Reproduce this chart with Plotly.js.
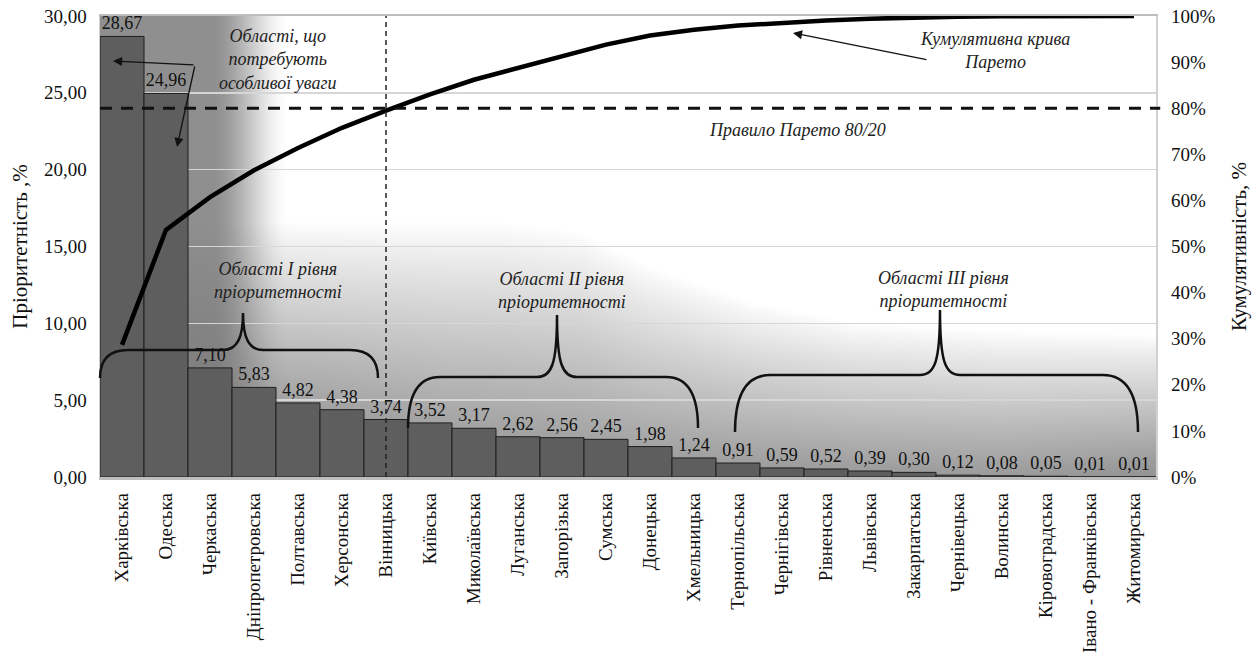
<!DOCTYPE html>
<html>
<head>
<meta charset="utf-8">
<script src="https://cdn.plot.ly/plotly-3.0.1.min.js"></script>
<style>
  html, body { margin: 0; padding: 0; background: #ffffff; }
  #chart { width: 1259px; height: 660px; }
</style>
</head>
<body>
<div id="chart"></div>
<script>
// Regions of Ukraine ordered by priority share
const regions = [
  'Харківська', 'Одеська', 'Черкаська', 'Дніпропетровська', 'Полтавська', 'Херсонська',
  'Вінницька', 'Київська', 'Миколаївська', 'Луганська', 'Запорізька', 'Сумська',
  'Донецька', 'Хмельницька', 'Тернопільська', 'Чернігівська', 'Рівненська', 'Львівська',
  'Закарпатська', 'Чернівецька', 'Волинська', 'Кіровоградська', 'Івано - Франківська', 'Житомирська'
];
const priority = [
  28.67, 24.96, 7.10, 5.83, 4.82, 4.38,
  3.74, 3.52, 3.17, 2.62, 2.56, 2.45,
  1.98, 1.24, 0.91, 0.59, 0.52, 0.39,
  0.30, 0.12, 0.08, 0.05, 0.01, 0.01
];
const leftTitle = 'Пріоритетність ,%';
const rightTitle = 'Кумулятивність, %';
const paretoShare = 0.8;
const cutoffRegion = 'Вінницька';

const noteAttention = 'Області, що<br>потребують<br>особливої уваги';
const noteCurve = 'Кумулятивна крива<br>Парето';
const noteRule = 'Правило Парето 80/20';
const groupLabels = [
  'Області I рівня<br>пріоритетності',
  'Області II рівня<br>пріоритетності',
  'Області III рівня<br>пріоритетності'
];

// Running share of the total for the Pareto curve
const total = priority.reduce((a, b) => a + b, 0);
let running = 0;
const cumulative = priority.map(v => (running += v) / total);

// Plot box in pixels
const W = 1259, H = 660;
const M = { l: 100, r: 103, t: 16, b: 183 };
const PW = W - M.l - M.r, PH = H - M.t - M.b;
const px = x => (x - M.l) / PW;
const py = y => (M.t + PH - y) / PH;

// Grey shading behind the bars, painted on a canvas
function interp(table, u) {
  if (u <= table[0][0]) return table[0][1];
  for (let i = 1; i < table.length; i++) {
    if (u <= table[i][0]) {
      const [u0, a] = table[i - 1], [u1, b] = table[i];
      return a + (b - a) * (u - u0) / (u1 - u0);
    }
  }
  return table[table.length - 1][1];
}
function smooth(e0, e1, x) {
  const t = Math.min(1, Math.max(0, (x - e0) / (e1 - e0)));
  return t * t * (3 - 2 * t);
}
function shadingImage() {
  const c = document.createElement('canvas');
  c.width = PW; c.height = PH;
  const ctx = c.getContext('2d');
  const img = ctx.createImageData(PW, PH);
  const fadeStart = [[0, 205], [400, 205], [480, 215], [550, 250], [650, 285], [750, 305], [900, 314], [1056, 318]];
  const fadeDepth = [[0, 0.92], [200, 0.9], [350, 0.8], [550, 0.75], [900, 0.72], [1056, 0.78]];
  for (let v = 0; v < PH; v++) {
    for (let u = 0; u < PW; u++) {
      const dl = 0.8 * (1 - smooth(110, 190, u));
      const v0 = interp(fadeStart, u);
      const t = Math.min(1, Math.max(0, (v - v0) / (PH - v0)));
      const db = interp(fadeDepth, u) * Math.pow(t, 0.9);
      const d = 1 - (1 - dl) * (1 - db);
      const g = Math.round(255 - d * 140);
      const k = (v * PW + u) * 4;
      img.data[k] = g; img.data[k + 1] = g; img.data[k + 2] = g; img.data[k + 3] = 255;
    }
  }
  ctx.putImageData(img, 0, 0);
  return c.toDataURL('image/png');
}

// Curly brace in pixel space, converted to paper coordinates
function brace(xl, xr, xc, yEnd, yArm, yPeak, r) {
  const P = (x, y) => `${px(x).toFixed(5)},${py(y).toFixed(5)}`;
  return `M ${P(xl, yEnd)} Q ${P(xl, yArm)} ${P(xl + r, yArm)} L ${P(xc - 20, yArm)} ` +
         `C ${P(xc - 5, yArm)} ${P(xc, yArm - 14)} ${P(xc, yPeak)} ` +
         `C ${P(xc, yArm - 14)} ${P(xc + 5, yArm)} ${P(xc + 20, yArm)} ` +
         `L ${P(xr - r, yArm)} Q ${P(xr, yArm)} ${P(xr, yEnd)}`;
}

const serif = 'Liberation Serif, Times New Roman, serif';
const noteFont = { family: serif, size: 18, color: '#222', style: 'italic' };

const bars = {
  type: 'bar',
  x: regions,
  y: priority,
  marker: { color: '#5e5e5e', line: { color: '#1e1e1e', width: 1 } },
  text: priority,
  texttemplate: '%{y:.2f}',
  textposition: 'outside',
  textfont: { family: serif, size: 18, color: '#111' },
  cliponaxis: false,
  hoverinfo: 'x+y'
};
const curve = {
  type: 'scatter',
  mode: 'lines',
  x: regions,
  y: cumulative,
  yaxis: 'y2',
  line: { color: '#000', width: 4.5 },
  hoverinfo: 'x+y'
};

const arrow = (hx, hy, tx, ty) => ({
  x: px(hx), y: py(hy), xref: 'paper', yref: 'paper',
  ax: tx - hx, ay: ty - hy, axref: 'pixel', ayref: 'pixel',
  text: '', showarrow: true, arrowhead: 2, arrowsize: 1.4, arrowwidth: 1.3, arrowcolor: '#111'
});
const note = (text, cx, cy) => ({
  x: px(cx), y: py(cy), xref: 'paper', yref: 'paper',
  text, showarrow: false, font: noteFont, align: 'center', xanchor: 'center', yanchor: 'middle'
});

const layout = {
  width: W, height: H,
  margin: M,
  paper_bgcolor: '#ffffff',
  plot_bgcolor: '#ffffff',
  separators: ', ',
  showlegend: false,
  bargap: 0,
  font: { family: serif, color: '#111' },
  xaxis: {
    type: 'category',
    tickangle: -90,
    tickfont: { family: serif, size: 19, color: '#111' },
    showgrid: false,
    showline: true, linecolor: '#bdbdbd', linewidth: 2.5, mirror: true,
    ticks: '', ticklabelstandoff: 6
  },
  yaxis: {
    range: [0, 30], dtick: 5, tickformat: '.2f',
    tickfont: { family: serif, size: 19, color: '#111' },
    showgrid: true, gridcolor: '#d6d6d6', gridwidth: 1.5,
    showline: true, linecolor: '#d0d0d0', linewidth: 1.5, mirror: true,
    zeroline: false, ticks: '', ticklabelstandoff: 8,
    title: { text: leftTitle, font: { family: serif, size: 21, color: '#111' }, standoff: 10 }
  },
  yaxis2: {
    overlaying: 'y', side: 'right',
    range: [0, 1], dtick: 0.1, tickformat: '.0%',
    tickfont: { family: serif, size: 19, color: '#111' },
    showgrid: false, zeroline: false, ticks: '', ticklabelstandoff: 14,
    title: { text: rightTitle, font: { family: serif, size: 21, color: '#111' }, standoff: 16 }
  },
  images: [{
    source: shadingImage(), xref: 'paper', yref: 'paper',
    x: 0, y: 1, sizex: 1, sizey: 1, xanchor: 'left', yanchor: 'top',
    sizing: 'stretch', layer: 'below'
  }],
  shapes: [
    { type: 'line', xref: 'paper', yref: 'y2', x0: 0, x1: 1.004, y0: paretoShare, y1: paretoShare,
      line: { color: '#111', width: 3, dash: '12px,9px' } },
    { type: 'line', xref: 'x', yref: 'paper', x0: cutoffRegion, x1: cutoffRegion, y0: 0, y1: 1,
      line: { color: '#222', width: 1.5, dash: '5px,4px' } },
    { type: 'path', xref: 'paper', yref: 'paper', path: brace(100, 378, 243, 378, 350, 313, 28),
      line: { color: '#111', width: 2.5 } },
    { type: 'path', xref: 'paper', yref: 'paper', path: brace(408, 698, 557, 428, 377, 315, 32),
      line: { color: '#111', width: 2.5 } },
    { type: 'path', xref: 'paper', yref: 'paper', path: brace(735, 1138, 940, 432, 375, 310, 35),
      line: { color: '#111', width: 2.5 } }
  ],
  annotations: [
    note(noteAttention, 278, 59),
    note(noteCurve, 995, 51),
    note(noteRule, 797, 130),
    note(groupLabels[0], 278, 280),
    note(groupLabels[1], 562, 290),
    note(groupLabels[2], 943, 289),
    arrow(113, 61, 195, 65),
    arrow(177, 147, 195, 65),
    arrow(793, 33, 928, 60)
  ]
};

Plotly.newPlot('chart', [bars, curve], layout, { displayModeBar: false, staticPlot: true });
</script>
</body>
</html>
